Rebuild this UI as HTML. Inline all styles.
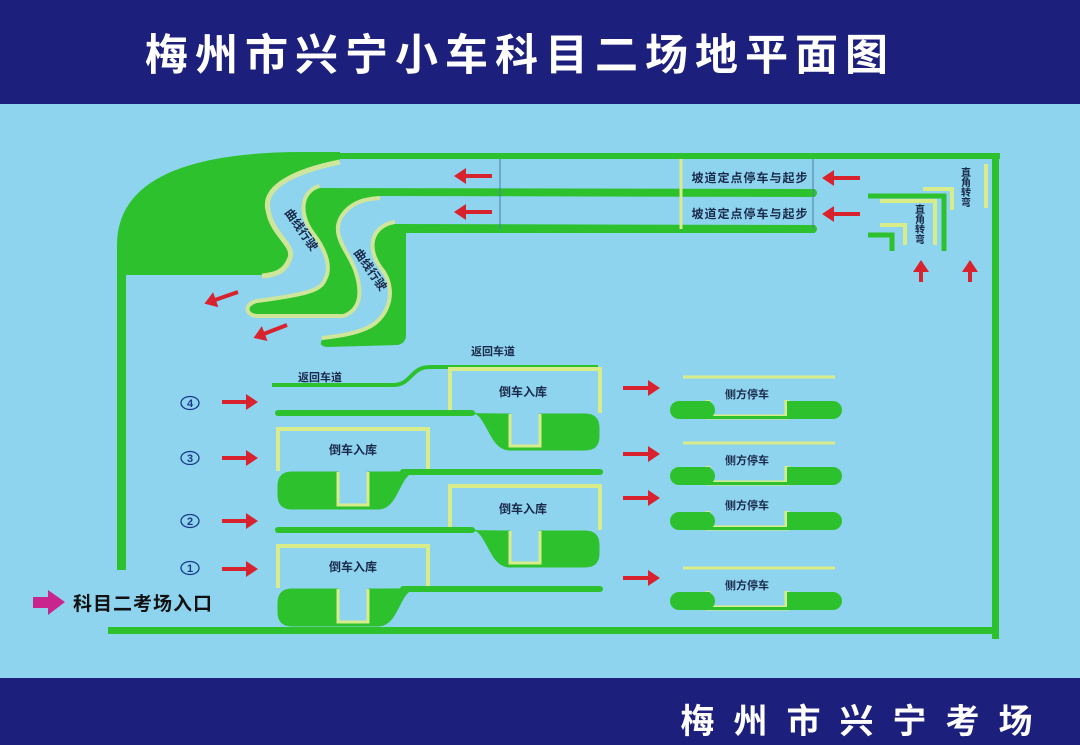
<!DOCTYPE html>
<html><head><meta charset="utf-8"><style>
html,body{margin:0;padding:0;}
body{width:1080px;height:745px;overflow:hidden;background:#8fd4ef;font-family:"Liberation Sans","Noto Sans CJK SC",sans-serif;}
svg{display:block}
</style></head><body>
<svg width="1080" height="745" viewBox="0 0 1080 745" xmlns="http://www.w3.org/2000/svg" font-family="'Liberation Sans','Noto Sans CJK SC',sans-serif">
<defs>
<marker id="ar" markerWidth="4" markerHeight="4" refX="1" refY="2" orient="auto" markerUnits="strokeWidth"><path d="M0,0 L3,2 L0,4 Z" fill="#d8232e"/></marker>
</defs>
<rect x="0" y="0" width="1080" height="745" fill="#8fd4ef"/>
<rect x="0" y="0" width="1080" height="104" fill="#1c1f7c"/>
<rect x="0" y="678" width="1080" height="67" fill="#1c1f7c"/>
<text x="520" y="70" text-anchor="middle" font-size="43" font-weight="bold" fill="#ffffff" letter-spacing="7">梅州市兴宁小车科目二场地平面图</text>
<text x="866" y="733" text-anchor="middle" font-size="34" font-weight="bold" fill="#ffffff" letter-spacing="19">梅州市兴宁考场</text>

<g fill="#2ec12e">
<rect x="290" y="153" width="710" height="6"/>
<rect x="992" y="153" width="7" height="486"/>
<rect x="108" y="627" width="891" height="7"/>
<rect x="117" y="260" width="9" height="310"/>
</g>
<path d="M117,275 L117,245 Q117,153 300,152 L340,152 L340,162 C300,170 262,185 268,210 C272,235 295,245 290,258 C285,272 275,275 265,275 Z" fill="#2ec12e"/>
<path d="M340,162 C300,170 262,185 268,210 C272,235 295,245 290,258 C285,272 275,275 262,276" fill="none" stroke="#cfe69a" stroke-width="5"/>
<path d="M320,188 C305,192 300,210 313,230 C325,245 335,265 327,280 C322,292 310,296 257,303 C246,306 248,314 258,314 L343,314 C360,308 360,290 353,270 C345,250 328,235 340,215 C348,203 360,197 380,196" fill="none" stroke="#cfe69a" stroke-width="8" stroke-linejoin="round"/>
<path d="M815,189 L320,188 C305,192 300,210 313,230 C325,245 335,265 327,280 C322,292 310,296 257,303 C246,306 248,314 258,314 L343,314 C360,308 360,290 353,270 C345,250 328,235 340,215 C348,203 360,197 380,196 L815,197 Z" fill="#2ec12e"/>
<path d="M395,224 C372,228 368,250 385,270 C398,290 392,315 373,327 C360,335 340,338 322,340" fill="none" stroke="#cfe69a" stroke-width="8"/>
<path d="M815,225 L395,224 C372,228 368,250 385,270 C398,290 392,315 373,327 C360,335 340,338 322,340 Q318,346 327,347 L398,345 Q406,343 406,335 L406,233 L815,233 Z" fill="#2ec12e"/>
<rect x="808" y="189" width="9" height="8" rx="4" fill="#2ec12e"/>
<rect x="808" y="225" width="9" height="8" rx="4" fill="#2ec12e"/>
<text transform="translate(298,232) rotate(55)" font-size="12" font-weight="bold" fill="#1a2a4a" text-anchor="middle">曲线行驶</text>
<text transform="translate(367,272) rotate(55)" font-size="12" font-weight="bold" fill="#1a2a4a" text-anchor="middle">曲线行驶</text>

<line x1="500" y1="159" x2="500" y2="229" stroke="#4a7fa0" stroke-width="1"/>
<line x1="813" y1="159" x2="813" y2="229" stroke="#4a7fa0" stroke-width="1"/>
<line x1="681" y1="159" x2="681" y2="229" stroke="#d8ec8a" stroke-width="3"/>
<text x="750" y="182" text-anchor="middle" font-size="12" font-weight="bold" fill="#1a2a4a" letter-spacing="1">坡道定点停车与起步</text>
<text x="750" y="218" text-anchor="middle" font-size="12" font-weight="bold" fill="#1a2a4a" letter-spacing="1">坡道定点停车与起步</text>

<g stroke="#d8232e" stroke-width="4" fill="none" marker-end="url(#ar)">
<line x1="492" y1="176" x2="462" y2="176"/>
<line x1="492" y1="212" x2="462" y2="212"/>
<line x1="860" y1="178" x2="830" y2="178"/>
<line x1="860" y1="214" x2="830" y2="214"/>
<line x1="921" y1="282" x2="921" y2="268"/>
<line x1="970" y1="282" x2="970" y2="268"/>
<line x1="238" y1="292" x2="212" y2="301"/>
<line x1="287" y1="325" x2="261" y2="335"/>
<line x1="222" y1="402" x2="250" y2="402"/>
<line x1="222" y1="458" x2="250" y2="458"/>
<line x1="222" y1="521" x2="250" y2="521"/>
<line x1="222" y1="569" x2="250" y2="569"/>
<line x1="623" y1="388" x2="652" y2="388"/>
<line x1="623" y1="454" x2="652" y2="454"/>
<line x1="623" y1="498" x2="652" y2="498"/>
<line x1="623" y1="578" x2="652" y2="578"/>
</g>

<g fill="none" stroke-linecap="butt">
<path d="M923,189 L952,189 L952,210" stroke="#d8ec8a" stroke-width="4"/>
<path d="M880,201 L935,201 L935,245" stroke="#d8ec8a" stroke-width="4"/>
<path d="M880,225 L905,225 L905,245" stroke="#d8ec8a" stroke-width="4"/>
<path d="M868,196 L944,196 L944,251" stroke="#2ec12e" stroke-width="5"/>
<path d="M868,235 L892,235 L892,251" stroke="#2ec12e" stroke-width="5"/>
<line x1="986" y1="164" x2="986" y2="208" stroke="#d8ec8a" stroke-width="4"/>
</g>
<text font-size="10" font-weight="bold" fill="#1a2a4a" style="writing-mode:vertical-rl"><tspan x="918" y="204">直角转弯</tspan></text>
<text font-size="10" font-weight="bold" fill="#1a2a4a" style="writing-mode:vertical-rl"><tspan x="964" y="167">直角转弯</tspan></text>

<path d="M272,385 L393,385 C412,385 410,367 430,367 L598,367" fill="none" stroke="#2ec12e" stroke-width="4"/>
<text x="320" y="381" text-anchor="middle" font-size="11" font-weight="bold" fill="#1a2a4a">返回车道</text>
<text x="493" y="355" text-anchor="middle" font-size="11" font-weight="bold" fill="#1a2a4a">返回车道</text>

<g>
<path d="M450,413 L450,369 L600,369 L600,413" fill="none" stroke="#d8ec8a" stroke-width="4"/>
<path d="M275,412 L470,412 C488,412 488,450 510,450 L585,450 Q599,450 599,436 L599,428 Q599,414 585,414 L540,414 L540,446 L510,446 L510,414 Z" fill="#2ec12e" stroke="#2ec12e" stroke-width="1"/>
<rect x="275" y="410" width="200" height="6" rx="3" fill="#2ec12e"/>
<path d="M510,414 L510,446 L540,446 L540,414" fill="none" stroke="#d8ec8a" stroke-width="3"/>
<text x="523" y="396" text-anchor="middle" font-size="12" font-weight="bold" fill="#1a2a4a">倒车入库</text>
</g>
<g transform="translate(0,117)">
<path d="M450,413 L450,369 L600,369 L600,413" fill="none" stroke="#d8ec8a" stroke-width="4"/>
<path d="M275,412 L470,412 C488,412 488,450 510,450 L585,450 Q599,450 599,436 L599,428 Q599,414 585,414 L540,414 L540,446 L510,446 L510,414 Z" fill="#2ec12e" stroke="#2ec12e" stroke-width="1"/>
<rect x="275" y="410" width="200" height="6" rx="3" fill="#2ec12e"/>
<path d="M510,414 L510,446 L540,446 L540,414" fill="none" stroke="#d8ec8a" stroke-width="3"/>
<text x="523" y="396" text-anchor="middle" font-size="12" font-weight="bold" fill="#1a2a4a">倒车入库</text>
</g>
<g>
<path d="M278,471 L278,429 L428,429 L428,471" fill="none" stroke="#d8ec8a" stroke-width="4"/>
<path d="M602,471 L418,471 C398,471 400,509 378,509 L292,509 Q278,509 278,495 L278,486 Q278,472 292,472 L338,472 L338,505 L368,505 L368,472 Z" fill="#2ec12e" stroke="#2ec12e" stroke-width="1"/>
<rect x="400" y="469" width="203" height="6" rx="3" fill="#2ec12e"/>
<path d="M338,472 L338,505 L368,505 L368,472" fill="none" stroke="#d8ec8a" stroke-width="3"/>
<text x="353" y="454" text-anchor="middle" font-size="12" font-weight="bold" fill="#1a2a4a">倒车入库</text>
</g>
<g transform="translate(0,117)">
<path d="M278,471 L278,429 L428,429 L428,471" fill="none" stroke="#d8ec8a" stroke-width="4"/>
<path d="M602,471 L418,471 C398,471 400,509 378,509 L292,509 Q278,509 278,495 L278,486 Q278,472 292,472 L338,472 L338,505 L368,505 L368,472 Z" fill="#2ec12e" stroke="#2ec12e" stroke-width="1"/>
<rect x="400" y="469" width="203" height="6" rx="3" fill="#2ec12e"/>
<path d="M338,472 L338,505 L368,505 L368,472" fill="none" stroke="#d8ec8a" stroke-width="3"/>
<text x="353" y="454" text-anchor="middle" font-size="12" font-weight="bold" fill="#1a2a4a">倒车入库</text>
</g>

<g>
<line x1="683" y1="377" x2="835" y2="377" stroke="#d8ec8a" stroke-width="3"/>
<path d="M708,400 L708,417 L787,417 L787,400" fill="none" stroke="#d8ec8a" stroke-width="5"/>
<rect x="670" y="401" width="45" height="18" rx="9" fill="#2ec12e"/><rect x="700" y="401" width="10" height="18" fill="#2ec12e"/>
<rect x="787" y="401" width="55" height="18" rx="9" fill="#2ec12e"/><rect x="787" y="401" width="10" height="18" fill="#2ec12e"/>
<rect x="708" y="416" width="80" height="3" fill="#2ec12e"/>
<text x="747" y="398" text-anchor="middle" font-size="11" font-weight="bold" fill="#1a2a4a">侧方停车</text>
</g>
<g transform="translate(0,66)">
<line x1="683" y1="377" x2="835" y2="377" stroke="#d8ec8a" stroke-width="3"/>
<path d="M708,400 L708,417 L787,417 L787,400" fill="none" stroke="#d8ec8a" stroke-width="5"/>
<rect x="670" y="401" width="45" height="18" rx="9" fill="#2ec12e"/><rect x="700" y="401" width="10" height="18" fill="#2ec12e"/>
<rect x="787" y="401" width="55" height="18" rx="9" fill="#2ec12e"/><rect x="787" y="401" width="10" height="18" fill="#2ec12e"/>
<rect x="708" y="416" width="80" height="3" fill="#2ec12e"/>
<text x="747" y="398" text-anchor="middle" font-size="11" font-weight="bold" fill="#1a2a4a">侧方停车</text>
</g>
<g transform="translate(0,111)">
<path d="M708,400 L708,417 L787,417 L787,400" fill="none" stroke="#d8ec8a" stroke-width="5"/>
<rect x="670" y="401" width="45" height="18" rx="9" fill="#2ec12e"/><rect x="700" y="401" width="10" height="18" fill="#2ec12e"/>
<rect x="787" y="401" width="55" height="18" rx="9" fill="#2ec12e"/><rect x="787" y="401" width="10" height="18" fill="#2ec12e"/>
<rect x="708" y="416" width="80" height="3" fill="#2ec12e"/>
<text x="747" y="398" text-anchor="middle" font-size="11" font-weight="bold" fill="#1a2a4a">侧方停车</text>
</g>
<g transform="translate(0,191)">
<line x1="683" y1="377" x2="835" y2="377" stroke="#d8ec8a" stroke-width="3"/>
<path d="M708,400 L708,417 L787,417 L787,400" fill="none" stroke="#d8ec8a" stroke-width="5"/>
<rect x="670" y="401" width="45" height="18" rx="9" fill="#2ec12e"/><rect x="700" y="401" width="10" height="18" fill="#2ec12e"/>
<rect x="787" y="401" width="55" height="18" rx="9" fill="#2ec12e"/><rect x="787" y="401" width="10" height="18" fill="#2ec12e"/>
<rect x="708" y="416" width="80" height="3" fill="#2ec12e"/>
<text x="747" y="398" text-anchor="middle" font-size="11" font-weight="bold" fill="#1a2a4a">侧方停车</text>
</g>

<g fill="none" stroke="#1a3a8a" stroke-width="1.3">
<ellipse cx="190" cy="403" rx="9" ry="6.5"/>
<ellipse cx="190" cy="458" rx="9" ry="6.5"/>
<ellipse cx="190" cy="521" rx="9" ry="6.5"/>
<ellipse cx="190" cy="568" rx="9" ry="6.5"/>
</g>
<g font-size="11" font-weight="bold" fill="#1a3a8a" text-anchor="middle">
<text x="190" y="407">4</text><text x="190" y="462">3</text><text x="190" y="525">2</text><text x="190" y="572">1</text>
</g>

<path d="M33,597 L48,597 L48,590 L65,602 L48,615 L48,608 L33,608 Z" fill="#c8268e"/>
<text x="73" y="610" font-size="19" font-weight="bold" fill="#111" letter-spacing="1">科目二考场入口</text>
</svg>
</body></html>
